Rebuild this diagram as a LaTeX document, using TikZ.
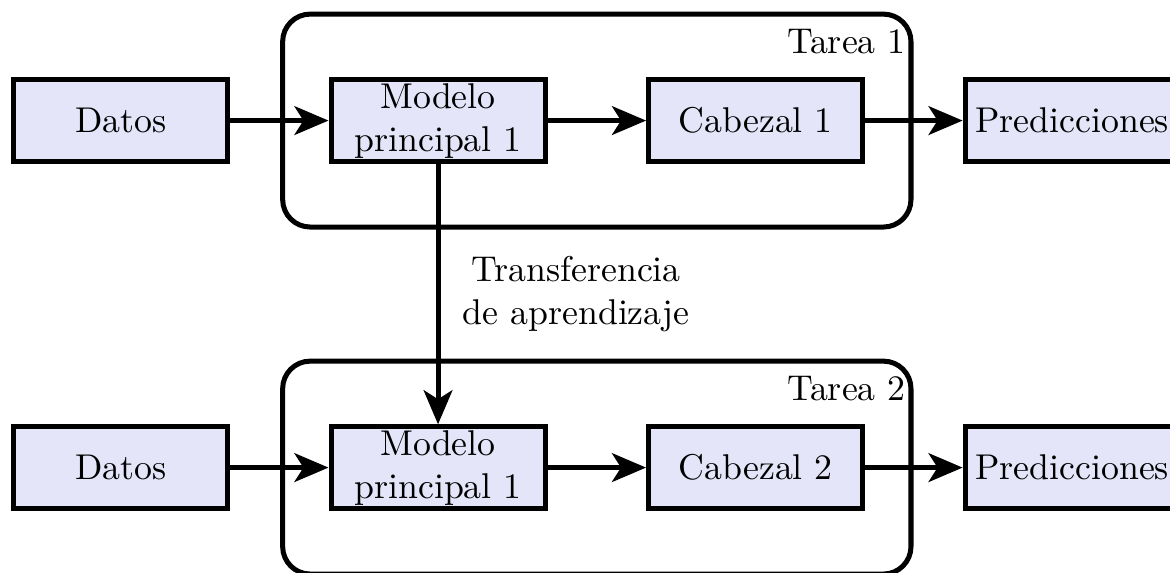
\documentclass[tikz,border=0pt]{standalone}
\usepackage{tikz}
\usetikzlibrary{arrows.meta,fit}
\definecolor{fondocaja}{RGB}{228,229,248}

\begin{document}
\begin{tikzpicture}[
		caja/.style={draw, line width=1.4pt, fill=fondocaja, minimum width=2.1cm, minimum height=0.8cm, align=center, inner xsep=1pt, inner ysep=0.2pt},
		tarea/.style={draw, line width=1.4pt, rounded corners=0.27cm, inner xsep=0.45cm, inner ysep=0.62cm},
		flecha/.style={line width=1.4pt, -{Stealth[length=9.5pt,width=8pt,inset=2.5pt]}}
	]
		\path[use as bounding box, clip] (0,0) rectangle (11.48,-5.613);

		% tarea 1
		\draw (1.187,-1.183) node [caja] (datos1) {Datos};
		\draw (4.298,-1.183) node [caja] (mod1) {Modelo\\principal 1};
		\draw (7.414,-1.183) node [caja] (cab1) {Cabezal 1};
		\draw (10.52,-1.183) node [caja] (pred1) {Predicciones};
		\node [tarea, fit=(mod1)(cab1)] (t1) {};
		\node [anchor=north east, inner sep=2pt] (etq1) at ([yshift=-1mm]t1.north east) {Tarea 1};

		% tarea 2
		\draw (1.187,-4.588) node [caja] (datos2) {Datos};
		\draw (4.298,-4.588) node [caja] (mod2) {Modelo\\principal 1};
		\draw (7.414,-4.588) node [caja] (cab2) {Cabezal 2};
		\draw (10.52,-4.588) node [caja] (pred2) {Predicciones};
		\node [tarea, fit=(mod2)(cab2)] (t2) {};
		\node [anchor=north east, inner sep=2pt] (etq2) at ([yshift=-1mm]t2.north east) {Tarea 2};

		\draw[flecha]
			(datos1) edge (mod1)
			(mod1) edge (cab1)
			(cab1) edge (pred1)
			(mod1) edge node [right=1mm, align=center] {Transferencia\\de aprendizaje} (mod2)
			(datos2) edge (mod2)
			(mod2) edge (cab2)
			(cab2) edge (pred2)
		;
	\end{tikzpicture}
\end{document}
